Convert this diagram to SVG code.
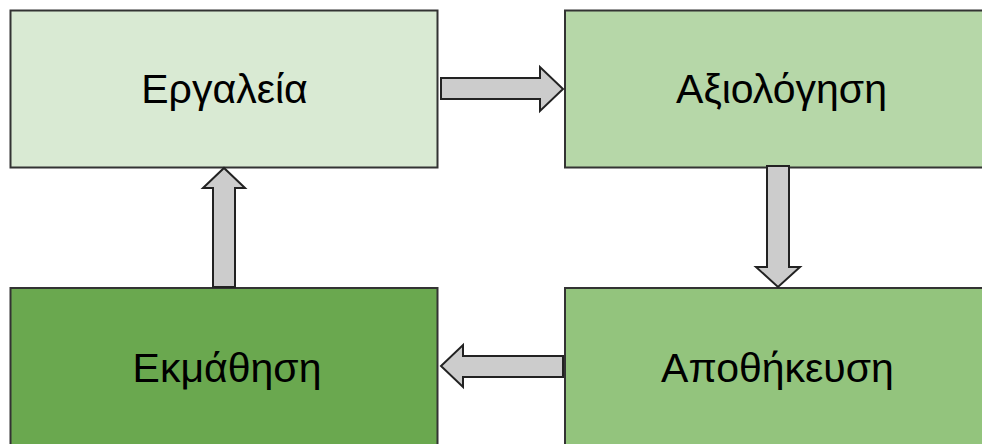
<svg xmlns="http://www.w3.org/2000/svg" width="982" height="444" viewBox="0 0 982 444">
<style>
.box{stroke:#333333;stroke-width:2}
.lbl{font-family:"Liberation Sans",Arial,sans-serif;font-size:41px;fill:#000000;text-anchor:middle}
.arr{fill:#cccccc;stroke:#222222;stroke-width:2;stroke-linejoin:miter}
</style>
<rect width="982" height="444" fill="#ffffff"/>
<g id="node-ergaleia">
<rect class="box" x="10.5" y="10.5" width="427" height="157" fill="#d9ead3"/>
<text class="lbl" x="224.5" y="103">Εργαλεία</text>
</g>
<g id="node-axiologisi">
<rect class="box" x="565" y="10.5" width="433" height="157" fill="#b6d7a8"/>
<text class="lbl" x="781.5" y="103">Αξιολόγηση</text>
</g>
<g id="node-ekmathisi">
<rect class="box" x="10.5" y="288" width="427" height="160" fill="#6aa84f"/>
<text class="lbl" x="227" y="382">Εκμάθηση</text>
</g>
<g id="node-apothikeusi">
<rect class="box" x="565" y="288" width="433" height="160" fill="#93c47d"/>
<text class="lbl" x="777.5" y="382">Αποθήκευση</text>
</g>
<g id="connectors">
<polygon class="arr" points="441,78 540,78 540,67 563,89 540,111 540,99 441,99"/>
<polygon class="arr" points="767,166 789,166 789,267 800,267 778,287 756,267 767,267"/>
<polygon class="arr" points="563,356 563,377 463,377 463,387 441,366 463,345 463,356"/>
<polygon class="arr" points="213,287 235,287 235,188 245,188 224,168 203,188 213,188"/>
</g>
</svg>
